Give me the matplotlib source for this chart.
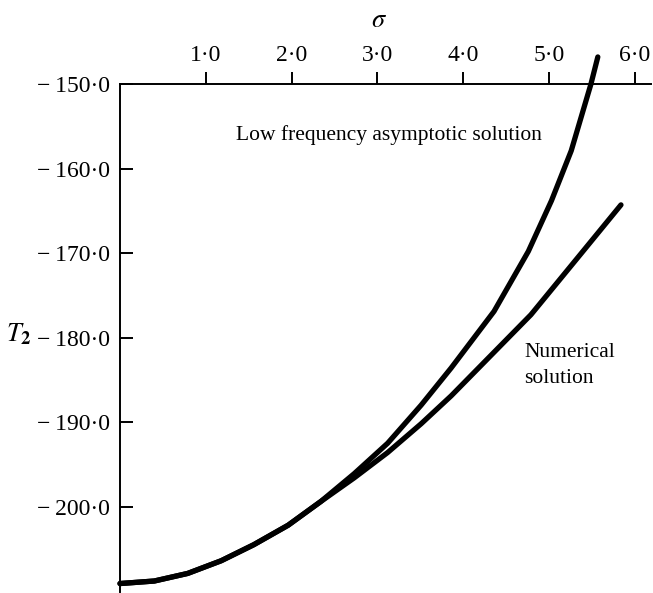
import matplotlib
matplotlib.use("Agg")
import matplotlib.pyplot as plt

# ---- data ----
sigma_asym = [0.00, 0.40, 0.79, 1.18, 1.56, 1.96, 2.34, 2.73, 3.12, 3.51, 3.86, 4.36, 4.76, 5.03, 5.26, 5.49, 5.57]
T_asym     = [-209.1, -208.8, -207.9, -206.4, -204.5, -202.2, -199.4, -196.1, -192.5, -188.0, -183.6, -176.9, -169.8, -163.8, -157.9, -150.0, -146.8]

sigma_num = [0.00, 0.40, 0.79, 1.18, 1.56, 1.96, 2.34, 2.73, 3.12, 3.51, 3.86, 4.79, 5.38, 5.84]
T_num     = [-209.1, -208.8, -207.9, -206.4, -204.5, -202.2, -199.4, -196.6, -193.6, -190.2, -186.9, -177.3, -170.0, -164.3]

x_ticks = [1.0, 2.0, 3.0, 4.0, 5.0, 6.0]
x_ticklabels = ["1·0", "2·0", "3·0", "4·0", "5·0", "6·0"]
y_ticks = [-150.0, -160.0, -170.0, -180.0, -190.0, -200.0]
y_ticklabels = ["−\u2009150·0", "−\u2009160·0", "−\u2009170·0", "−\u2009180·0", "−\u2009190·0", "−\u2009200·0"]

label_asym = "Low frequency asymptotic solution"
label_num = "Numerical\nsolution"

# ---- figure ----
W, H = 653, 593
plt.rcParams['font.family'] = ['Liberation Serif', 'DejaVu Serif']
plt.rcParams['mathtext.fontset'] = 'stix'
fig = plt.figure(figsize=(W / 100, H / 100), dpi=100)
ax = fig.add_axes([120 / W, 1 - 592 / H, (651 - 120) / W, (592 - 84) / H])
ax.set_xlim(0.0, 6.19)
ax.set_ylim(-210.1, -150.0)

lw_curve = 3.8
ax.plot(sigma_asym, T_asym, color='black', lw=lw_curve, clip_on=False,
        solid_capstyle='round', solid_joinstyle='round')
ax.plot(sigma_num, T_num, color='black', lw=lw_curve, clip_on=False,
        solid_capstyle='round', solid_joinstyle='round')

for s in ['right', 'bottom']:
    ax.spines[s].set_visible(False)
for s in ['top', 'left']:
    ax.spines[s].set_linewidth(1.4)
    ax.spines[s].set_color('black')

ax.xaxis.tick_top()
ax.set_xticks(x_ticks)
ax.set_xticklabels(x_ticklabels)
ax.tick_params(axis='x', direction='out', length=9, width=1.4, pad=4,
               labelsize=17, top=True, bottom=False)
ax.set_yticks(y_ticks)
ax.set_yticklabels(y_ticklabels)
ax.tick_params(axis='y', direction='in', length=9, width=1.4, pad=7,
               labelsize=17, left=True, right=False)

ax.text(1.35, -156.0, label_asym, fontsize=15.5, ha='left', va='center')
ax.text(4.71, -183.3, label_num, fontsize=15.5, ha='left', va='center',
        linespacing=1.5)

fig.text(379 / W, 1 - 21 / H, r"$\sigma$", fontsize=19, ha='center', va='center')
fig.text(6 / W, 1 - 334 / H, r"$T_{\mathbf{2}}$", fontsize=19, ha='left', va='center')

fig.savefig("out.png", dpi=100)
